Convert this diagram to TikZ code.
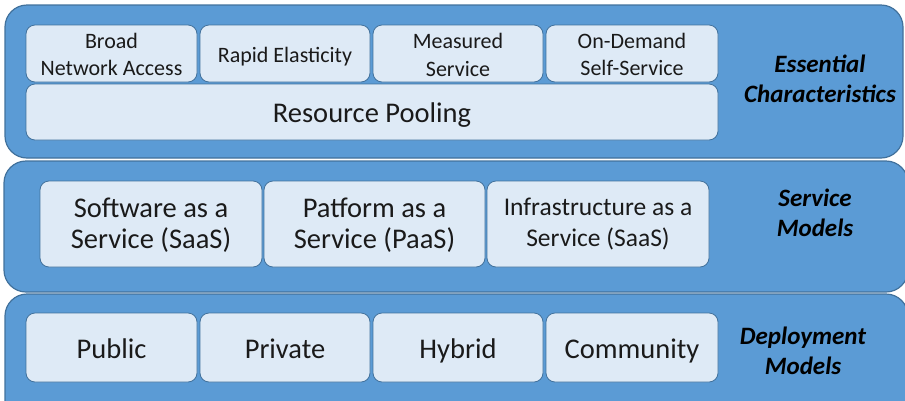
\documentclass[tikz,border=0pt]{standalone}
\usepackage{fontspec}
\setmainfont{Carlito}
\definecolor{panelfill}{HTML}{5B9BD5}
\definecolor{paneldraw}{HTML}{41719C}
\definecolor{boxfill}{HTML}{DEEAF6}
\definecolor{boxdraw}{HTML}{41719C}
\definecolor{txt}{HTML}{1A1A1A}
\begin{document}
\begin{tikzpicture}[x=1pt,y=-1pt,
  panel/.style={fill=panelfill,draw=paneldraw,line width=1.2pt,rounded corners=22pt},
  inbox/.style={fill=boxfill,draw=boxdraw,line width=0.8pt,rounded corners=9pt},
  txtA/.style={text=txt,align=center,inner sep=0pt,font=\fontsize{22}{27.5}\selectfont},
  txtB/.style={text=txt,align=center,inner sep=0pt,font=\fontsize{28.5}{31}\selectfont},
  lbl/.style={text=black,align=center,inner sep=0pt,font=\fontsize{25}{30}\selectfont\bfseries\itshape}]
\useasboundingbox (0,0) rectangle (905,400);
\begin{scope}
\clip (0,0) rectangle (905,400);
% panels
\draw[panel] (5,5) rectangle (903,158);
\draw[panel] (4,161) rectangle (908,292);
\draw[panel] (5,294) rectangle (908,430);
\end{scope}
% row 1
\draw[inbox] (26,25) rectangle (197,82);
\draw[inbox] (200,25) rectangle (370,82);
\draw[inbox] (373,25) rectangle (543,82);
\draw[inbox] (546,25) rectangle (718,82);
\draw[inbox] (26,84) rectangle (718,140);
\node[txtA] (bna) at (111.5,54.5) {Broad\\Network Access};
\node[txtA,anchor=base] (re) at (285,62) {Rapid Elasticity};
\node[txtA] (ms) at (458,55) {Measured\\Service};
\node[txtA] (od) at (632,54.5) {On-Demand\\Self-Service};
\node[txtA,anchor=base,font=\fontsize{28.5}{30}\selectfont] (rp) at (372,122) {Resource Pooling};
\node[lbl] (ec) at (820,79) {Essential\\Characteristics};
% row 2
\draw[inbox] (40,181) rectangle (262,267);
\draw[inbox] (264,181) rectangle (485,267);
\draw[inbox] (487,181) rectangle (709,267);
\node[txtB] (saas) at (151,225) {Software as a\\Service (SaaS)};
\node[txtB] (paas) at (374.5,225) {Patform as a\\Service (PaaS)};
\node[txtB,font=\fontsize{25.5}{31}\selectfont] (iaas) at (598,224) {Infrastructure as a\\Service (SaaS)};
\node[lbl] (sm) at (815,213) {Service\\Models};
% row 3
\draw[inbox] (26,313) rectangle (197,382);
\draw[inbox] (200,313) rectangle (370,382);
\draw[inbox] (373,313) rectangle (543,382);
\draw[inbox] (546,313) rectangle (718,382);
\node[txtB,anchor=base] (pub) at (111.5,358) {Public};
\node[txtB,anchor=base] (pri) at (285,358) {Private};
\node[txtB,anchor=base] (hyb) at (458,358) {Hybrid};
\node[txtB,anchor=base] (com) at (632,358) {Community};
\node[lbl] (dm) at (803,351) {Deployment\\Models};
\end{tikzpicture}
\end{document}
